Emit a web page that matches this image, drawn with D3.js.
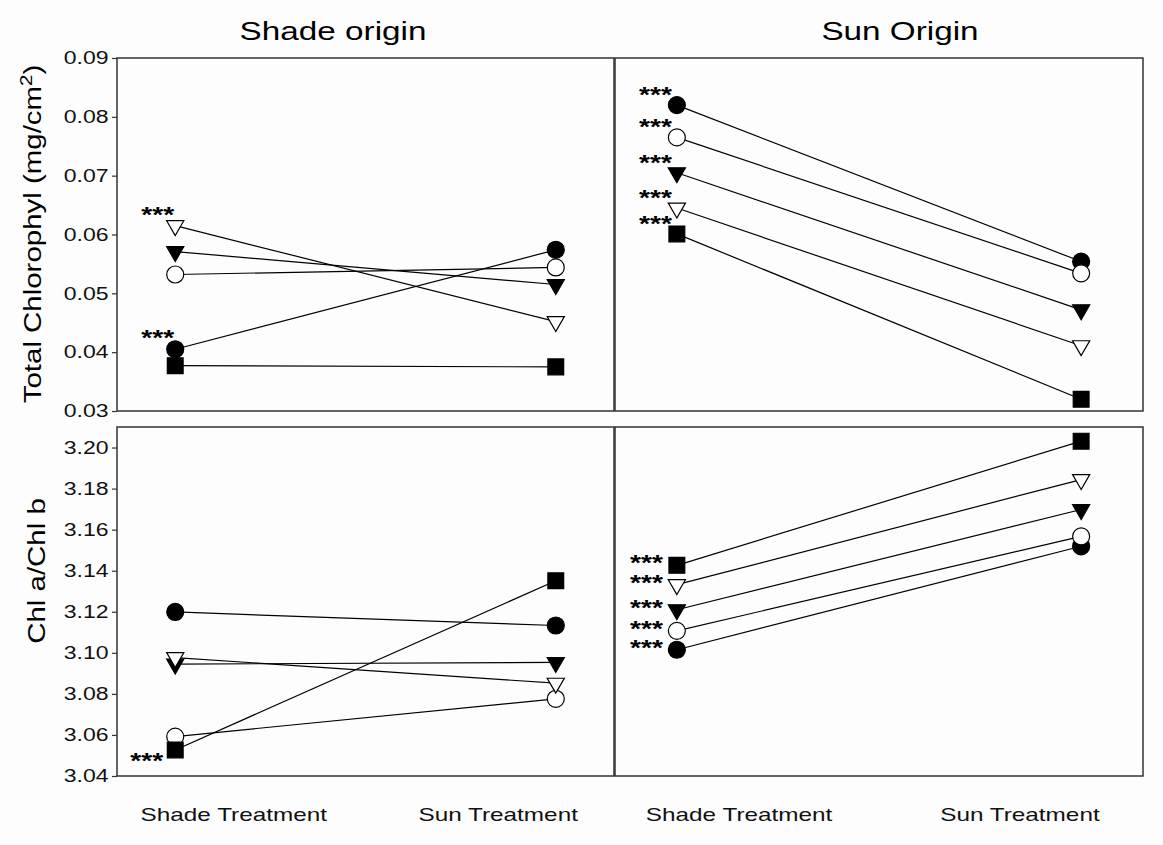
<!DOCTYPE html>
<html>
<head>
<meta charset="utf-8">
<script src="https://cdn.jsdelivr.net/npm/d3@7"></script>
<style>
  body { margin: 0; background: #fdfdfd; }
  svg { display: block; font-family: "Liberation Sans", Arial, sans-serif; }
</style>
</head>
<body>
<svg id="chart" width="1163" height="845"></svg>
<script>
// treatments on the x axis, same order in every panel
const treatments = ['Shade Treatment', 'Sun Treatment'];
// marker kinds, one per line, same order in every value array below
const seriesMarkers = ['filledCircle', 'openCircle', 'filledTriangle', 'openTriangle', 'filledSquare'];

// values per series: [shade treatment, sun treatment]
const shadeOriginTotal = [[0.0405, 0.0574], [0.0532, 0.0544], [0.0571, 0.0515], [0.0615, 0.0452], [0.0377, 0.0375]];
const sunOriginTotal   = [[0.0820, 0.0554], [0.0765, 0.0534], [0.0705, 0.0472], [0.0645, 0.0411], [0.0601, 0.0320]];
const shadeOriginRatio = [[3.1199, 3.1133], [3.0592, 3.0776], [3.0945, 3.0953], [3.0977, 3.0852], [3.0527, 3.1351]];
const sunOriginRatio   = [[3.1015, 3.1519], [3.1107, 3.1567], [3.1210, 3.1698], [3.1332, 3.1844], [3.1426, 3.2031]];

// series (by index) that get a *** mark at the shade treatment
const shadeOriginTotalStars = [0, 3];
const sunOriginTotalStars = [0, 1, 2, 3, 4];
const shadeOriginRatioStars = [4];
const sunOriginRatioStars = [0, 1, 2, 3, 4];

const totalTicks = [0.03, 0.04, 0.05, 0.06, 0.07, 0.08, 0.09];
const ratioTicks = [3.04, 3.06, 3.08, 3.10, 3.12, 3.14, 3.16, 3.18, 3.20];
const originTitles = ['Shade origin', 'Sun Origin'];

const svg = d3.select('#chart');
const stretch = 1.28; // the original type is wide

var yTotal = d3.scaleLinear().domain([0.03, 0.09]).range([411, 58]);
var yRatio = d3.scaleLinear().domain([3.04, 3.21]).range([776, 427]);

const panels = [
  { x0: 117, x1: 614, y: yTotal, data: shadeOriginTotal, stars: shadeOriginTotalStars, starDx: -1, starDy: -4, ticks: totalTicks, fmt: '.2f' },
  { x0: 615, x1: 1143, y: yTotal, data: sunOriginTotal, stars: sunOriginTotalStars, starDx: -5, starDy: -3 },
  { x0: 117, x1: 614, y: yRatio, data: shadeOriginRatio, stars: shadeOriginRatioStars, starDx: -12, starDy: 18, ticks: ratioTicks, fmt: '.2f', labels: true },
  { x0: 615, x1: 1143, y: yRatio, data: sunOriginRatio, stars: sunOriginRatioStars, starDx: -14, starDy: 5, labels: true }
];

function markerPath(kind) {
  if (kind.indexOf('Circle') >= 0) return d3.symbol(d3.symbolCircle, 227)();
  if (kind.indexOf('Square') >= 0) return d3.symbol(d3.symbolSquare, 250)();
  return d3.symbol(d3.symbolTriangle, 128)();
}

panels.forEach(p => {
  var x = d3.scalePoint().domain(treatments).range([p.x0, p.x1]).padding(0.153);
  var g = svg.append('g');

  g.append('rect')
    .attr('x', p.x0).attr('y', p.y.range()[1])
    .attr('width', p.x1 - p.x0).attr('height', p.y.range()[0] - p.y.range()[1])
    .attr('fill', 'none').attr('stroke', '#333').attr('stroke-width', 1.5);

  if (p.ticks) {
    var ax = g.append('g')
      .attr('transform', 'translate(' + p.x0 + ',0)')
      .call(d3.axisLeft(p.y).tickValues(p.ticks).tickFormat(d3.format(p.fmt)).tickSize(5).tickSizeOuter(0));
    ax.select('.domain').remove();
    ax.selectAll('.tick line').attr('stroke', '#333').attr('stroke-width', 1.2);
    ax.selectAll('.tick text')
      .attr('x', -8.5 / stretch)
      .attr('transform', 'scale(' + stretch + ',1)')
      .attr('font-size', 18).attr('fill', '#111')
      .style('font-family', '"Liberation Sans", Arial, sans-serif');
  }

  if (p.labels) {
    var lx = d3.scalePoint().domain(treatments).range([p.x0, p.x1]).padding(0.44);
    var lab = g.append('g')
      .attr('transform', 'translate(0,808)')
      .call(d3.axisBottom(lx).tickSize(0));
    lab.select('.domain').remove();
    lab.selectAll('.tick text')
      .attr('y', 0).attr('dy', '0.71em')
      .attr('transform', 'scale(' + stretch + ',1)')
      .attr('font-size', 19).attr('fill', '#111')
      .style('font-family', '"Liberation Sans", Arial, sans-serif');
  }

  var line = d3.line()
    .x((d, i) => x(treatments[i]))
    .y(d => p.y(d));

  g.selectAll('path.series').data(p.data)
    .enter().append('path')
    .attr('class', 'series')
    .attr('d', d => line(d))
    .attr('fill', 'none').attr('stroke', '#000').attr('stroke-width', 1.2);

  p.data.forEach((vals, s) => {
    var kind = seriesMarkers[s];
    g.selectAll(null).data(vals)
      .enter().append('path')
      .attr('d', markerPath(kind))
      .attr('transform', (d, i) => 'translate(' + x(treatments[i]) + ',' + p.y(d) + ')' + (kind.indexOf('Triangle') >= 0 ? ' rotate(180)' : ''))
      .attr('fill', kind.indexOf('filled') === 0 ? '#000' : '#fff')
      .attr('stroke', '#000').attr('stroke-width', 1.2);
  });

  p.stars.forEach(s => {
    g.append('text')
      .attr('transform', 'translate(' + (x(treatments[0]) + p.starDx) + ',' + (p.y(p.data[s][0]) + p.starDy) + ') scale(' + stretch + ',1)')
      .attr('text-anchor', 'end')
      .attr('font-size', 22).attr('font-weight', 'bold')
      .text('***');
  });
});

// origin titles
svg.selectAll('text.title').data(originTitles)
  .enter().append('text')
  .attr('class', 'title')
  .attr('transform', (d, i) => 'translate(' + [333, 900][i] + ',40) scale(' + stretch + ',1)')
  .attr('text-anchor', 'middle')
  .attr('font-size', 26)
  .text(d => d);

// y axis titles
var t1 = svg.append('text')
  .attr('transform', 'translate(41,234) rotate(-90) scale(' + stretch + ',1)')
  .attr('text-anchor', 'middle')
  .attr('font-size', 23);
t1.append('tspan').text('Total Chlorophyl (mg/cm');
t1.append('tspan').attr('dy', -9).attr('font-size', 16).text('2');
t1.append('tspan').attr('dy', 9).text(')');

svg.append('text')
  .attr('transform', 'translate(45,571) rotate(-90) scale(' + stretch + ',1)')
  .attr('text-anchor', 'middle')
  .attr('font-size', 23)
  .text('Chl a/Chl b');
</script>
</body>
</html>
